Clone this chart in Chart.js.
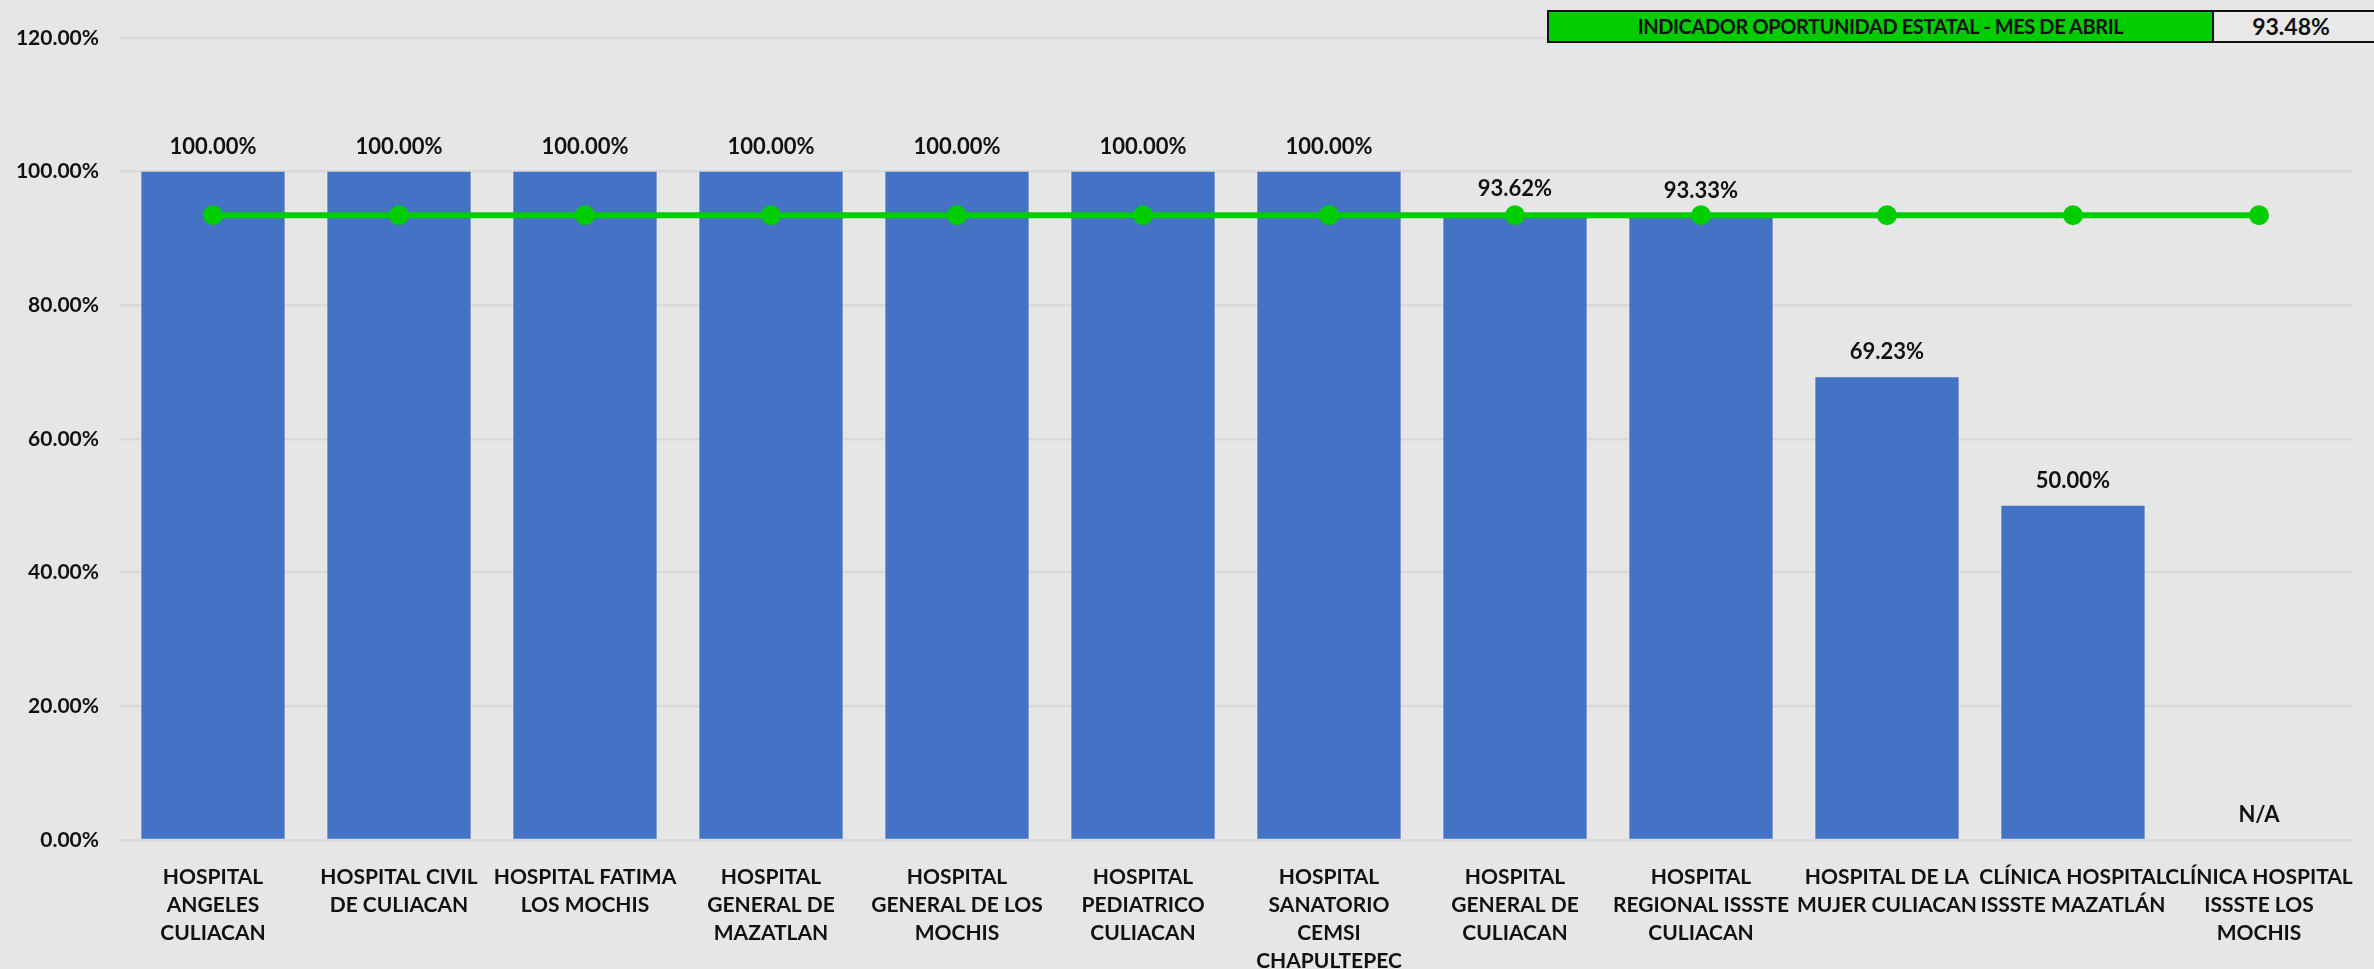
<!DOCTYPE html>
<html>
<head>
<meta charset="utf-8">
<script src="https://cdn.jsdelivr.net/npm/chart.js@4.4.1/dist/chart.umd.min.js"></script>
<style>
    html, body { margin: 0; padding: 0; background: #e6e6e6; overflow: hidden; }
    #wrap { position: relative; width: 2374px; height: 969px; }
    .box { position: absolute; box-sizing: border-box; font-family: Lato, "Open Sans", sans-serif; font-weight: bold; color: #111; text-align: center; }
    #indTitle { left: 1547px; top: 10px; width: 667px; height: 33px; line-height: 29px; background: #00cc00; border: 2px solid #111; font-size: 20px; letter-spacing: -0.4px; }
    #indValue { left: 2212px; top: 10px; width: 170px; height: 33px; line-height: 29px; background: #e8e8e8; border: 2px solid #111; font-size: 23px; text-align: left; }
    #indValue span { display: inline-block; width: 154px; text-align: center; }
</style>
</head>
<body>
<div id="wrap">
    <canvas id="chart"></canvas>
    <div class="box" id="indTitle"></div>
    <div class="box" id="indValue"><span></span></div>
</div>
<script>
const categories = [
    ['HOSPITAL', 'ANGELES', 'CULIACAN'],
    ['HOSPITAL CIVIL', 'DE CULIACAN'],
    ['HOSPITAL FATIMA', 'LOS MOCHIS'],
    ['HOSPITAL', 'GENERAL DE', 'MAZATLAN'],
    ['HOSPITAL', 'GENERAL DE LOS', 'MOCHIS'],
    ['HOSPITAL', 'PEDIATRICO', 'CULIACAN'],
    ['HOSPITAL', 'SANATORIO', 'CEMSI', 'CHAPULTEPEC'],
    ['HOSPITAL', 'GENERAL DE', 'CULIACAN'],
    ['HOSPITAL', 'REGIONAL ISSSTE', 'CULIACAN'],
    ['HOSPITAL DE LA', 'MUJER CULIACAN'],
    ['CLÍNICA HOSPITAL', 'ISSSTE MAZATLÁN'],
    ['CLÍNICA HOSPITAL', 'ISSSTE LOS', 'MOCHIS']
];
const hospitalValues = [100, 100, 100, 100, 100, 100, 100, 93.62, 93.33, 69.23, 50, null];
const stateValue = 93.48;
const stateLine = categories.map(() => stateValue);
const indicatorTitle = 'INDICADOR OPORTUNIDAD ESTATAL - MES DE ABRIL';
const yTicks = [0, 20, 40, 60, 80, 100, 120];

document.getElementById('indTitle').textContent = indicatorTitle;
document.querySelector('#indValue span').textContent = stateValue.toFixed(2) + '%';

const FONT = 'Lato, "Open Sans", sans-serif';

const barLabels = {
    id: 'barLabels',
    afterDatasetsDraw(chart) {
        const ctx = chart.ctx;
        const meta = chart.getDatasetMeta(1);
        const yScale = chart.scales.y;
        ctx.save();
        ctx.font = 'bold 22px ' + FONT;
        ctx.fillStyle = '#111';
        ctx.textAlign = 'center';
        ctx.textBaseline = 'middle';
        meta.data.forEach((el, i) => {
            const v = hospitalValues[i];
            const y = v === null ? yScale.getPixelForValue(0) : el.y;
            const text = v === null ? 'N/A' : v.toFixed(2) + '%';
            ctx.fillText(text, el.x, y - 25);
        });
        ctx.restore();
    }
};

const ctx = document.getElementById('chart').getContext('2d');
new Chart(ctx, {
    data: {
        labels: categories,
        datasets: [
            {
                type: 'line',
                data: stateLine,
                borderColor: '#00cc00',
                backgroundColor: '#00cc00',
                borderWidth: 6,
                pointRadius: 7,
                pointHoverRadius: 7,
                order: 0
            },
            {
                type: 'bar',
                data: hospitalValues,
                backgroundColor: '#4472c4',
                barPercentage: 0.77,
                categoryPercentage: 1,
                order: 1
            }
        ]
    },
    options: {
        responsive: true,
        maintainAspectRatio: false,
        devicePixelRatio: 1,
        animation: false,
        layout: { padding: { top: 38, right: 22, left: 0, bottom: 0 } },
        plugins: { legend: { display: false }, tooltip: { enabled: false } },
        scales: {
            x: {
                grid: { display: false },
                border: { display: false },
                ticks: {
                    autoSkip: false,
                    maxRotation: 0,
                    color: '#111',
                    padding: 15,
                    font: { family: FONT, size: 21, weight: 'bold', lineHeight: 1.33 }
                },
                afterFit: (scale) => { scale.height = 129; }
            },
            y: {
                min: 0,
                max: 120,
                afterBuildTicks: (scale) => { scale.ticks = yTicks.map(v => ({ value: v })); },
                grid: { color: '#d9d9d9', lineWidth: 2.5, drawTicks: false },
                border: { display: false },
                ticks: {
                    color: '#111',
                    padding: 21,
                    font: { family: FONT, size: 21, weight: 'bold' },
                    callback: (v) => v.toFixed(2) + '%'
                },
                afterFit: (scale) => { scale.width = 120; }
            }
        }
    },
    plugins: [barLabels]
});
</script>
</body>
</html>
